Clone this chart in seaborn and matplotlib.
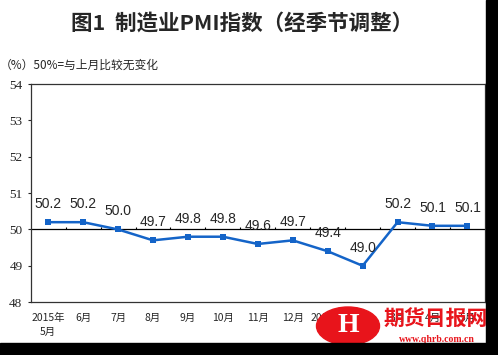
import numpy as np
import pandas as pd
import matplotlib.pyplot as plt
import seaborn as sns
from matplotlib.patches import Ellipse, Rectangle

# data
months = ['2015年\n5月', '6月', '7月', '8月', '9月', '10月', '11月', '12月',
          '2016年\n1月', '2月', '3月', '4月', '5月']
pmi = [50.2, 50.2, 50.0, 49.7, 49.8, 49.8, 49.6, 49.7, 49.4, 49.0, 50.2, 50.1, 50.1]

df = pd.DataFrame({'pos': np.arange(len(months)), 'PMI': pmi})

sns.set_style('white')
plt.rcParams['font.family'] = ['Noto Sans CJK SC', 'DejaVu Sans']

fig = plt.figure(figsize=(4.98, 3.55), dpi=100)
ax = fig.add_axes([0.0617, 0.149, 0.912, 0.614])

sns.lineplot(data=df, x='pos', y='PMI', ax=ax, color='#1464C8', linewidth=1.8,
             marker='s', markersize=4.5, markeredgewidth=0)

# 50 reference line with small ticks between months
ax.axhline(50, color='black', linewidth=0.9, zorder=1)
ax.vlines(np.arange(len(months) - 1) + 0.5, 50, 50.08, color='black', linewidth=0.8)

# data labels
for i, v in enumerate(pmi):
    ax.annotate(f'{v:.1f}', (i, v), xytext=(0, 8), textcoords='offset points',
                ha='center', va='bottom', fontsize=10, family='Liberation Sans')

ax.set_xlim(-0.5, len(months) - 0.5)
ax.set_ylim(48, 54)
ax.set_yticks(range(48, 55))
ax.set_yticklabels([str(t) for t in range(48, 55)], family='Liberation Serif', fontsize=9.5)
ax.set_xticks(df['pos'])
ax.set_xticklabels(months, fontsize=7.5, linespacing=1.5)
ax.tick_params(axis='x', length=0, pad=8)
ax.tick_params(axis='y', length=2, width=0.8, direction='out', left=True, pad=4)
ax.set_xlabel('')
ax.set_ylabel('')
for s in ax.spines.values():
    s.set_color('#333333')
    s.set_linewidth(0.9)

fig.text(0.487, 0.935, '图1  制造业PMI指数（经季节调整）', ha='center', va='center',
         fontsize=15.5, fontweight='bold')
fig.text(0.0, 0.817, '（%）50%=与上月比较无变化', ha='left', va='center', fontsize=8.5)

# watermark
fig.patches.append(Ellipse((348 / 498, 1 - 326 / 355), 63 / 498, 38 / 355,
                           transform=fig.transFigure, color='#E8141B', zorder=5))
fig.text(348 / 498, 1 - 326 / 355, 'H', ha='center', va='center', color='white',
         fontsize=20, fontweight='bold', family='Liberation Serif', zorder=6)
fig.text(436 / 498, 1 - 319 / 355, '期货日报网', ha='center', va='center', color='#E8141B',
         fontsize=15, fontweight='bold', zorder=6)
fig.text(437 / 498, 1 - 339 / 355, 'www.qhrb.com.cn', ha='center', va='center', color='#E8141B',
         fontsize=7, fontweight='bold', family='Liberation Serif', zorder=6)

# black borders right and bottom
fig.patches.append(Rectangle((486 / 498, 0), 12 / 498, 1, transform=fig.transFigure,
                             color='black', zorder=7))
fig.patches.append(Rectangle((0, 0), 1, 12 / 355, transform=fig.transFigure,
                             color='black', zorder=7))

fig.savefig('out.png', dpi=100)
